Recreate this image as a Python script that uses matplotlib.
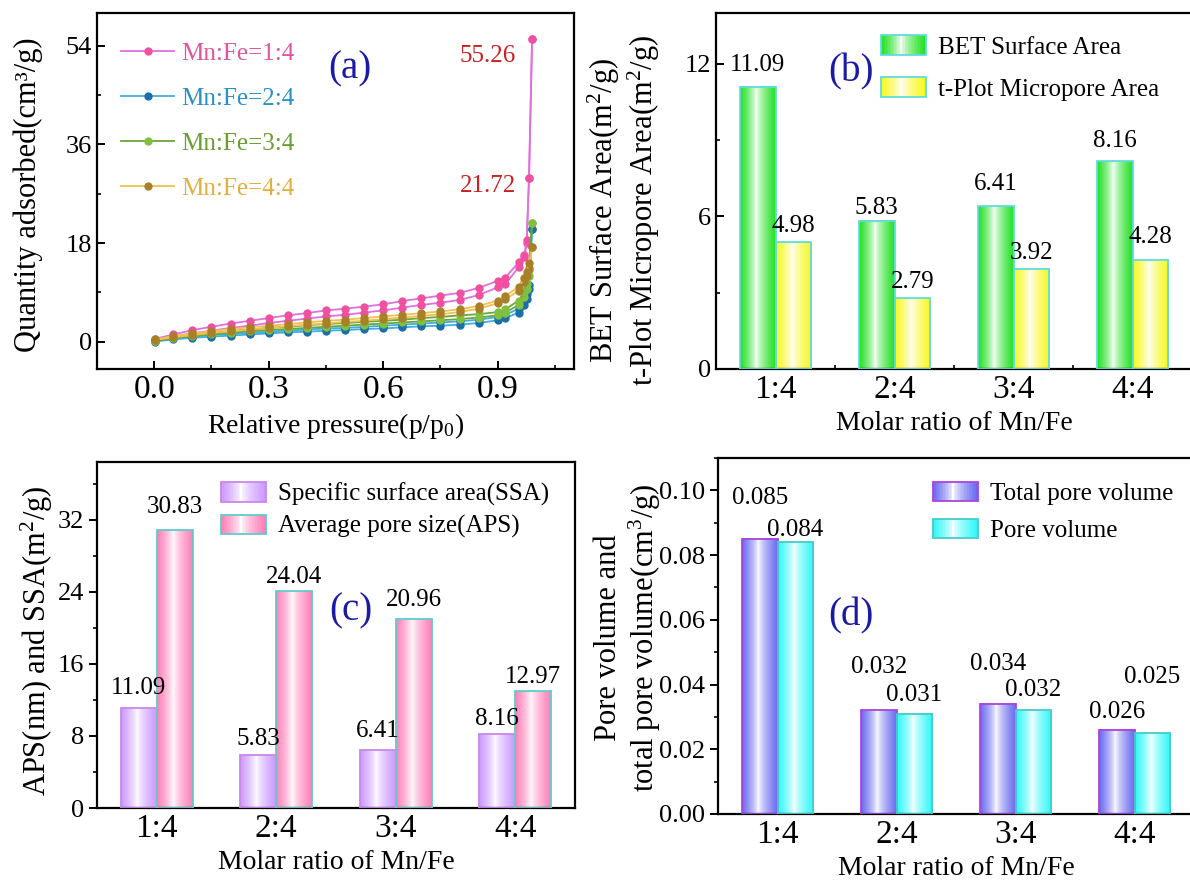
import numpy as np
import matplotlib
matplotlib.use("Agg")
import matplotlib.pyplot as plt
from matplotlib.patches import Rectangle, Patch
from matplotlib.legend_handler import HandlerBase
from matplotlib.colors import to_rgb
from matplotlib.ticker import MultipleLocator, FixedLocator

plt.rcParams["font.family"] = ["Liberation Serif", "DejaVu Serif"]
plt.rcParams["mathtext.fontset"] = "custom"
plt.rcParams["mathtext.rm"] = "Liberation Serif"
plt.rcParams["mathtext.it"] = "Liberation Serif:italic"

# ---- (a) N2 isotherms ----
p_rel = [0.002, 0.05, 0.10, 0.15, 0.20, 0.25, 0.30, 0.35, 0.40, 0.45, 0.50, 0.55, 0.60,
         0.65, 0.70, 0.75, 0.80, 0.85, 0.90, 0.92, 0.955, 0.97, 0.976, 0.982, 0.99]
q_14_hi = [0.5, 1.3, 2.1, 2.7, 3.3, 3.8, 4.3, 4.8, 5.2, 5.7, 6.0, 6.4, 6.8,
           7.4, 7.9, 8.4, 8.9, 9.8, 11.1, 11.7, 14.5, 15.9, 18.6, 29.9, 55.26]
q_14_lo = [0.3, 0.9, 1.5, 2.0, 2.5, 2.9, 3.4, 3.8, 4.2, 4.6, 4.9, 5.3, 5.7,
           6.2, 6.7, 7.1, 7.6, 8.5, 9.9, 10.5, 13.6, 15.4, 18.0, 29.9, 55.26]
q_24_hi = [0.1, 0.6, 0.9, 1.2, 1.4, 1.6, 1.8, 2.0, 2.2, 2.4, 2.5, 2.7, 2.9,
           3.1, 3.3, 3.5, 3.7, 4.0, 4.5, 4.9, 6.0, 7.5, 8.7, 10.4, 20.6]
q_24_lo = [0.0, 0.4, 0.7, 0.9, 1.1, 1.3, 1.5, 1.7, 1.8, 2.0, 2.1, 2.3, 2.4,
           2.6, 2.8, 2.9, 3.1, 3.4, 3.9, 4.3, 5.3, 6.6, 7.8, 9.6, 20.6]
q_34_hi = [0.2, 0.8, 1.2, 1.6, 1.9, 2.2, 2.5, 2.7, 3.0, 3.2, 3.4, 3.6, 3.8,
           4.0, 4.3, 4.5, 4.8, 5.0, 5.4, 5.9, 7.5, 9.0, 10.6, 13.0, 21.72]
q_34_lo = [0.1, 0.6, 1.0, 1.3, 1.6, 1.9, 2.1, 2.3, 2.5, 2.7, 2.9, 3.1, 3.3,
           3.5, 3.7, 3.9, 4.1, 4.4, 4.8, 5.3, 6.7, 8.2, 9.6, 12.0, 21.72]
q_44_hi = [0.4, 1.0, 1.5, 1.9, 2.3, 2.6, 2.9, 3.2, 3.5, 3.8, 4.0, 4.3, 4.6,
           4.9, 5.2, 5.5, 5.9, 6.5, 7.5, 8.3, 10.0, 11.6, 12.8, 14.3, 17.2]
q_44_lo = [0.3, 0.8, 1.2, 1.6, 1.9, 2.2, 2.5, 2.8, 3.1, 3.3, 3.6, 3.8, 4.1,
           4.4, 4.7, 5.0, 5.4, 6.0, 7.0, 7.7, 9.3, 10.8, 12.0, 13.5, 17.2]
iso_labels = ["Mn:Fe=1:4", "Mn:Fe=2:4", "Mn:Fe=3:4", "Mn:Fe=4:4"]

# ---- bar panels ----
ratios = ["1:4", "2:4", "3:4", "4:4"]
bet_area = [11.09, 5.83, 6.41, 8.16]
micro_area = [4.98, 2.79, 3.92, 4.28]
ssa = [11.09, 5.83, 6.41, 8.16]
aps = [30.83, 24.04, 20.96, 12.97]
total_pv = [0.085, 0.032, 0.034, 0.026]
pore_v = [0.084, 0.031, 0.032, 0.025]

TXT_BLUE = "#1a1aa6"
W = 0.3


def gradient_rgb(color, n=64, center=0.45):
    t = np.linspace(0, 1, n)
    w = np.where(t < center, (center - t) / center, (t - center) / (1 - center))
    w = np.clip(w, 0, 1) ** 0.7
    c = np.array(to_rgb(color))
    return 1 - w[:, None] * (1 - c[None, :])


def gradient_bars(ax, xs, heights, color, edge):
    bars = ax.bar(xs, heights, W, facecolor="none", edgecolor=edge, linewidth=1.3, zorder=3)
    img = gradient_rgb(color)[None, :, :]
    for b in bars:
        x0 = b.get_x()
        ax.imshow(img, extent=[x0, x0 + W, 0, b.get_height()], aspect="auto",
                  zorder=2, interpolation="bilinear")
    return bars


class GradientHandler(HandlerBase):
    def __init__(self, color, edge):
        super().__init__()
        self.color = color
        self.edge = edge

    def create_artists(self, legend, orig_handle, xdescent, ydescent, width, height, fontsize, trans):
        cols = gradient_rgb(self.color, n=30)
        n = len(cols)
        arts = []
        for i, c in enumerate(cols):
            arts.append(Rectangle((-xdescent + i * width / n, -ydescent), width / n * 1.1, height,
                                  facecolor=c, edgecolor="none", transform=trans))
        arts.append(Rectangle((-xdescent, -ydescent), width, height, facecolor="none",
                              edgecolor=self.edge, lw=1.3, transform=trans))
        return arts


def gradient_legend(ax, labels, colors, edges, **kw):
    proxies = [Patch(label=l) for l in labels]
    hmap = {pr: GradientHandler(c, e) for pr, c, e in zip(proxies, colors, edges)}
    return ax.legend(handles=proxies, handler_map=hmap, frameon=False, fontsize=18,
                     handlelength=1.8, handleheight=0.8, handletextpad=0.5, **kw)


def style_axes(ax, ydir="in"):
    for s in ax.spines.values():
        s.set_linewidth(1.6)
    ax.tick_params(axis="y", which="major", direction=ydir, length=6, width=1.4, labelsize=19)
    ax.tick_params(axis="y", which="minor", direction=ydir, length=3, width=1.2)
    ax.tick_params(axis="x", which="major", direction="in", length=6, width=1.4, labelsize=24, pad=4)
    ax.tick_params(axis="x", which="minor", direction="in", length=3, width=1.2)


def bar_labels(ax, xs, vals, fmt, offs, va="bottom"):
    for x, v, o in zip(xs, vals, offs):
        ax.annotate(fmt.format(v), (x, v), xytext=(0, o), textcoords="offset points",
                    ha="center", va=va, fontsize=18)


fig = plt.figure(figsize=(11.9, 8.9), dpi=100)

# ---------- (a) ----------
ax = fig.add_axes([0.0815, 0.5854, 0.4009, 0.400])
series = [
    (q_14_hi, q_14_lo, "#e070e0", "#f050a0", "#e0559e"),
    (q_24_hi, q_24_lo, "#40aee0", "#1a6fa8", "#2a90c8"),
    (q_34_hi, q_34_lo, "#6aa63a", "#80c040", "#6a9e30"),
    (q_44_hi, q_44_lo, "#f0c050", "#a88028", "#e0b040"),
]
handles = []
for (hi, lo, lc, mc, tc), lab in zip(series, iso_labels):
    ax.plot(p_rel, lo, "-o", color=lc, lw=1.3, ms=5, mfc=mc, mec=mc)
    h, = ax.plot(p_rel, hi, "-o", color=lc, lw=1.3, ms=5, mfc=mc, mec=mc, label=lab)
    handles.append(h)
ax.set_xlim(-0.15, 1.1)
ax.set_ylim(-5, 60)
ax.xaxis.set_major_locator(FixedLocator([0.0, 0.3, 0.6, 0.9]))
ax.xaxis.set_minor_locator(FixedLocator([0.15, 0.45, 0.75, 1.05]))
ax.yaxis.set_major_locator(FixedLocator([0, 18, 36, 54]))
ax.yaxis.set_minor_locator(FixedLocator([9, 27, 45]))
style_axes(ax)
leg = ax.legend(handles=handles, loc="upper left", bbox_to_anchor=(0.03, 0.945), frameon=False,
                fontsize=18, handlelength=2.1, handletextpad=0.3, labelspacing=0.9,
                borderaxespad=0)
for t, s in zip(leg.get_texts(), series):
    t.set_color(s[4])
ax.text(0.874, 52.2, "55.26", color="#cc2020", fontsize=18, ha="center", va="center")
ax.text(0.874, 28.5, "21.72", color="#cc2020", fontsize=18, ha="center", va="center")
ax.text(0.53, 0.843, "(a)", transform=ax.transAxes, color=TXT_BLUE, fontsize=28,
        ha="center", va="center")
ax.set_xlabel("Relative pressure(p/p$_0$)", fontsize=20)
ax.set_ylabel("Quantity adsorbed(cm³/g)", fontsize=22)
ax.yaxis.set_label_coords(-0.113, 0.49)

x = np.arange(len(ratios))

# ---------- (b) ----------
ax = fig.add_axes([0.6017, 0.5854, 0.40, 0.400])
gradient_bars(ax, x - W / 2, bet_area, "#22e022", "#60dcdc")
gradient_bars(ax, x + W / 2, micro_area, "#f8f820", "#60dcdc")
bar_labels(ax, x - W / 2, bet_area, "{:.2f}", [8, 1, 8, 6.5])
bar_labels(ax, x + W / 2, micro_area, "{:.2f}", [3.6, 3.6, 4, 8.6])
ax.set_xlim(-0.5, 3.5)
ax.set_ylim(0, 14)
ax.set_xticks(x, ratios)
ax.xaxis.set_minor_locator(FixedLocator([0.5, 1.5, 2.5]))
ax.yaxis.set_major_locator(MultipleLocator(6))
ax.yaxis.set_minor_locator(MultipleLocator(3))
style_axes(ax)
ax.tick_params(axis="x", which="major", length=0)
gradient_legend(ax, ["BET Surface Area", "t-Plot Micropore Area"],
                ["#22e022", "#f8f820"], ["#60dcdc", "#60dcdc"],
                loc="upper left", bbox_to_anchor=(0.325, 0.965), labelspacing=0.75, borderaxespad=0)
ax.text(0.284, 0.834, "(b)", transform=ax.transAxes, color=TXT_BLUE, fontsize=28,
        ha="center", va="center")
ax.set_xlabel("Molar ratio of Mn/Fe", fontsize=20)
ax.set_ylabel("BET Surface Area(m$^\\mathregular{2}$/g)\nt-Plot Micropore Area(m$^\\mathregular{2}$/g)",
              fontsize=22, linespacing=1.15)
ax.yaxis.set_label_coords(-0.113, 0.445)

# ---------- (c) ----------
ax = fig.add_axes([0.0815, 0.0921, 0.4017, 0.3888])
gradient_bars(ax, x - W / 2, ssa, "#cc99ff", "#c888e8")
gradient_bars(ax, x + W / 2, aps, "#ff80b8", "#60cccc")
bar_labels(ax, x - W / 2, ssa, "{:.2f}", [6.5, 4.3, 5.8, 3])
bar_labels(ax, x + W / 2, aps, "{:.2f}", [8.6, 2.2, 5.8, 2.2])
ax.set_xlim(-0.5, 3.5)
ax.set_ylim(0, 38.4)
ax.set_xticks(x, ratios)
ax.yaxis.set_major_locator(MultipleLocator(8))
ax.yaxis.set_minor_locator(MultipleLocator(4))
style_axes(ax, ydir="out")
gradient_legend(ax, ["Specific surface area(SSA)", "Average pore size(APS)"],
                ["#cc99ff", "#ff80b8"], ["#c888e8", "#60cccc"],
                loc="upper left", bbox_to_anchor=(0.238, 0.97), labelspacing=0.35, borderaxespad=0)
ax.text(0.531, 0.569, "(c)", transform=ax.transAxes, color=TXT_BLUE, fontsize=28,
        ha="center", va="center")
ax.set_xlabel("Molar ratio of Mn/Fe", fontsize=20)
ax.set_ylabel("APS(nm) and SSA(m$^\\mathregular{2}$/g)", fontsize=22)
ax.yaxis.set_label_coords(-0.088, 0.483)

# ---------- (d) ----------
ax = fig.add_axes([0.6034, 0.0854, 0.40, 0.400])
gradient_bars(ax, x - W / 2, total_pv, "#6a6af0", "#aa44dd")
gradient_bars(ax, x + W / 2, pore_v, "#30f8f8", "#44cccc")
bar_labels(ax, x - W / 2, total_pv, "{:.3f}", [29.5, 31.4, 28.8, 13], va="center")
bar_labels(ax, x + W / 2, pore_v, "{:.3f}", [9.1, 13.7, 14.8, 40.3], va="center")
ax.set_xlim(-0.5, 3.5)
ax.set_ylim(0, 0.11)
ax.set_xticks(x, ratios)
ax.yaxis.set_major_locator(MultipleLocator(0.02))
ax.yaxis.set_minor_locator(MultipleLocator(0.01))
ax.yaxis.set_major_formatter(matplotlib.ticker.FormatStrFormatter("%.2f"))
style_axes(ax, ydir="out")
ax.tick_params(axis="x", which="major", length=0)
gradient_legend(ax, ["Total pore volume", "Pore volume"],
                ["#6a6af0", "#30f8f8"], ["#aa44dd", "#44cccc"],
                loc="upper left", bbox_to_anchor=(0.43, 0.96), labelspacing=0.55, borderaxespad=0)
ax.text(0.279, 0.556, "(d)", transform=ax.transAxes, color=TXT_BLUE, fontsize=28,
        ha="center", va="center")
ax.set_xlabel("Molar ratio of Mn/Fe", fontsize=20)
ax.set_ylabel("Pore volume and\ntotal pore volume(cm$^\\mathregular{3}$/g)", fontsize=22, linespacing=1.15)
ax.yaxis.set_label_coords(-0.115, 0.494)

fig.savefig("out.png", dpi=100)
